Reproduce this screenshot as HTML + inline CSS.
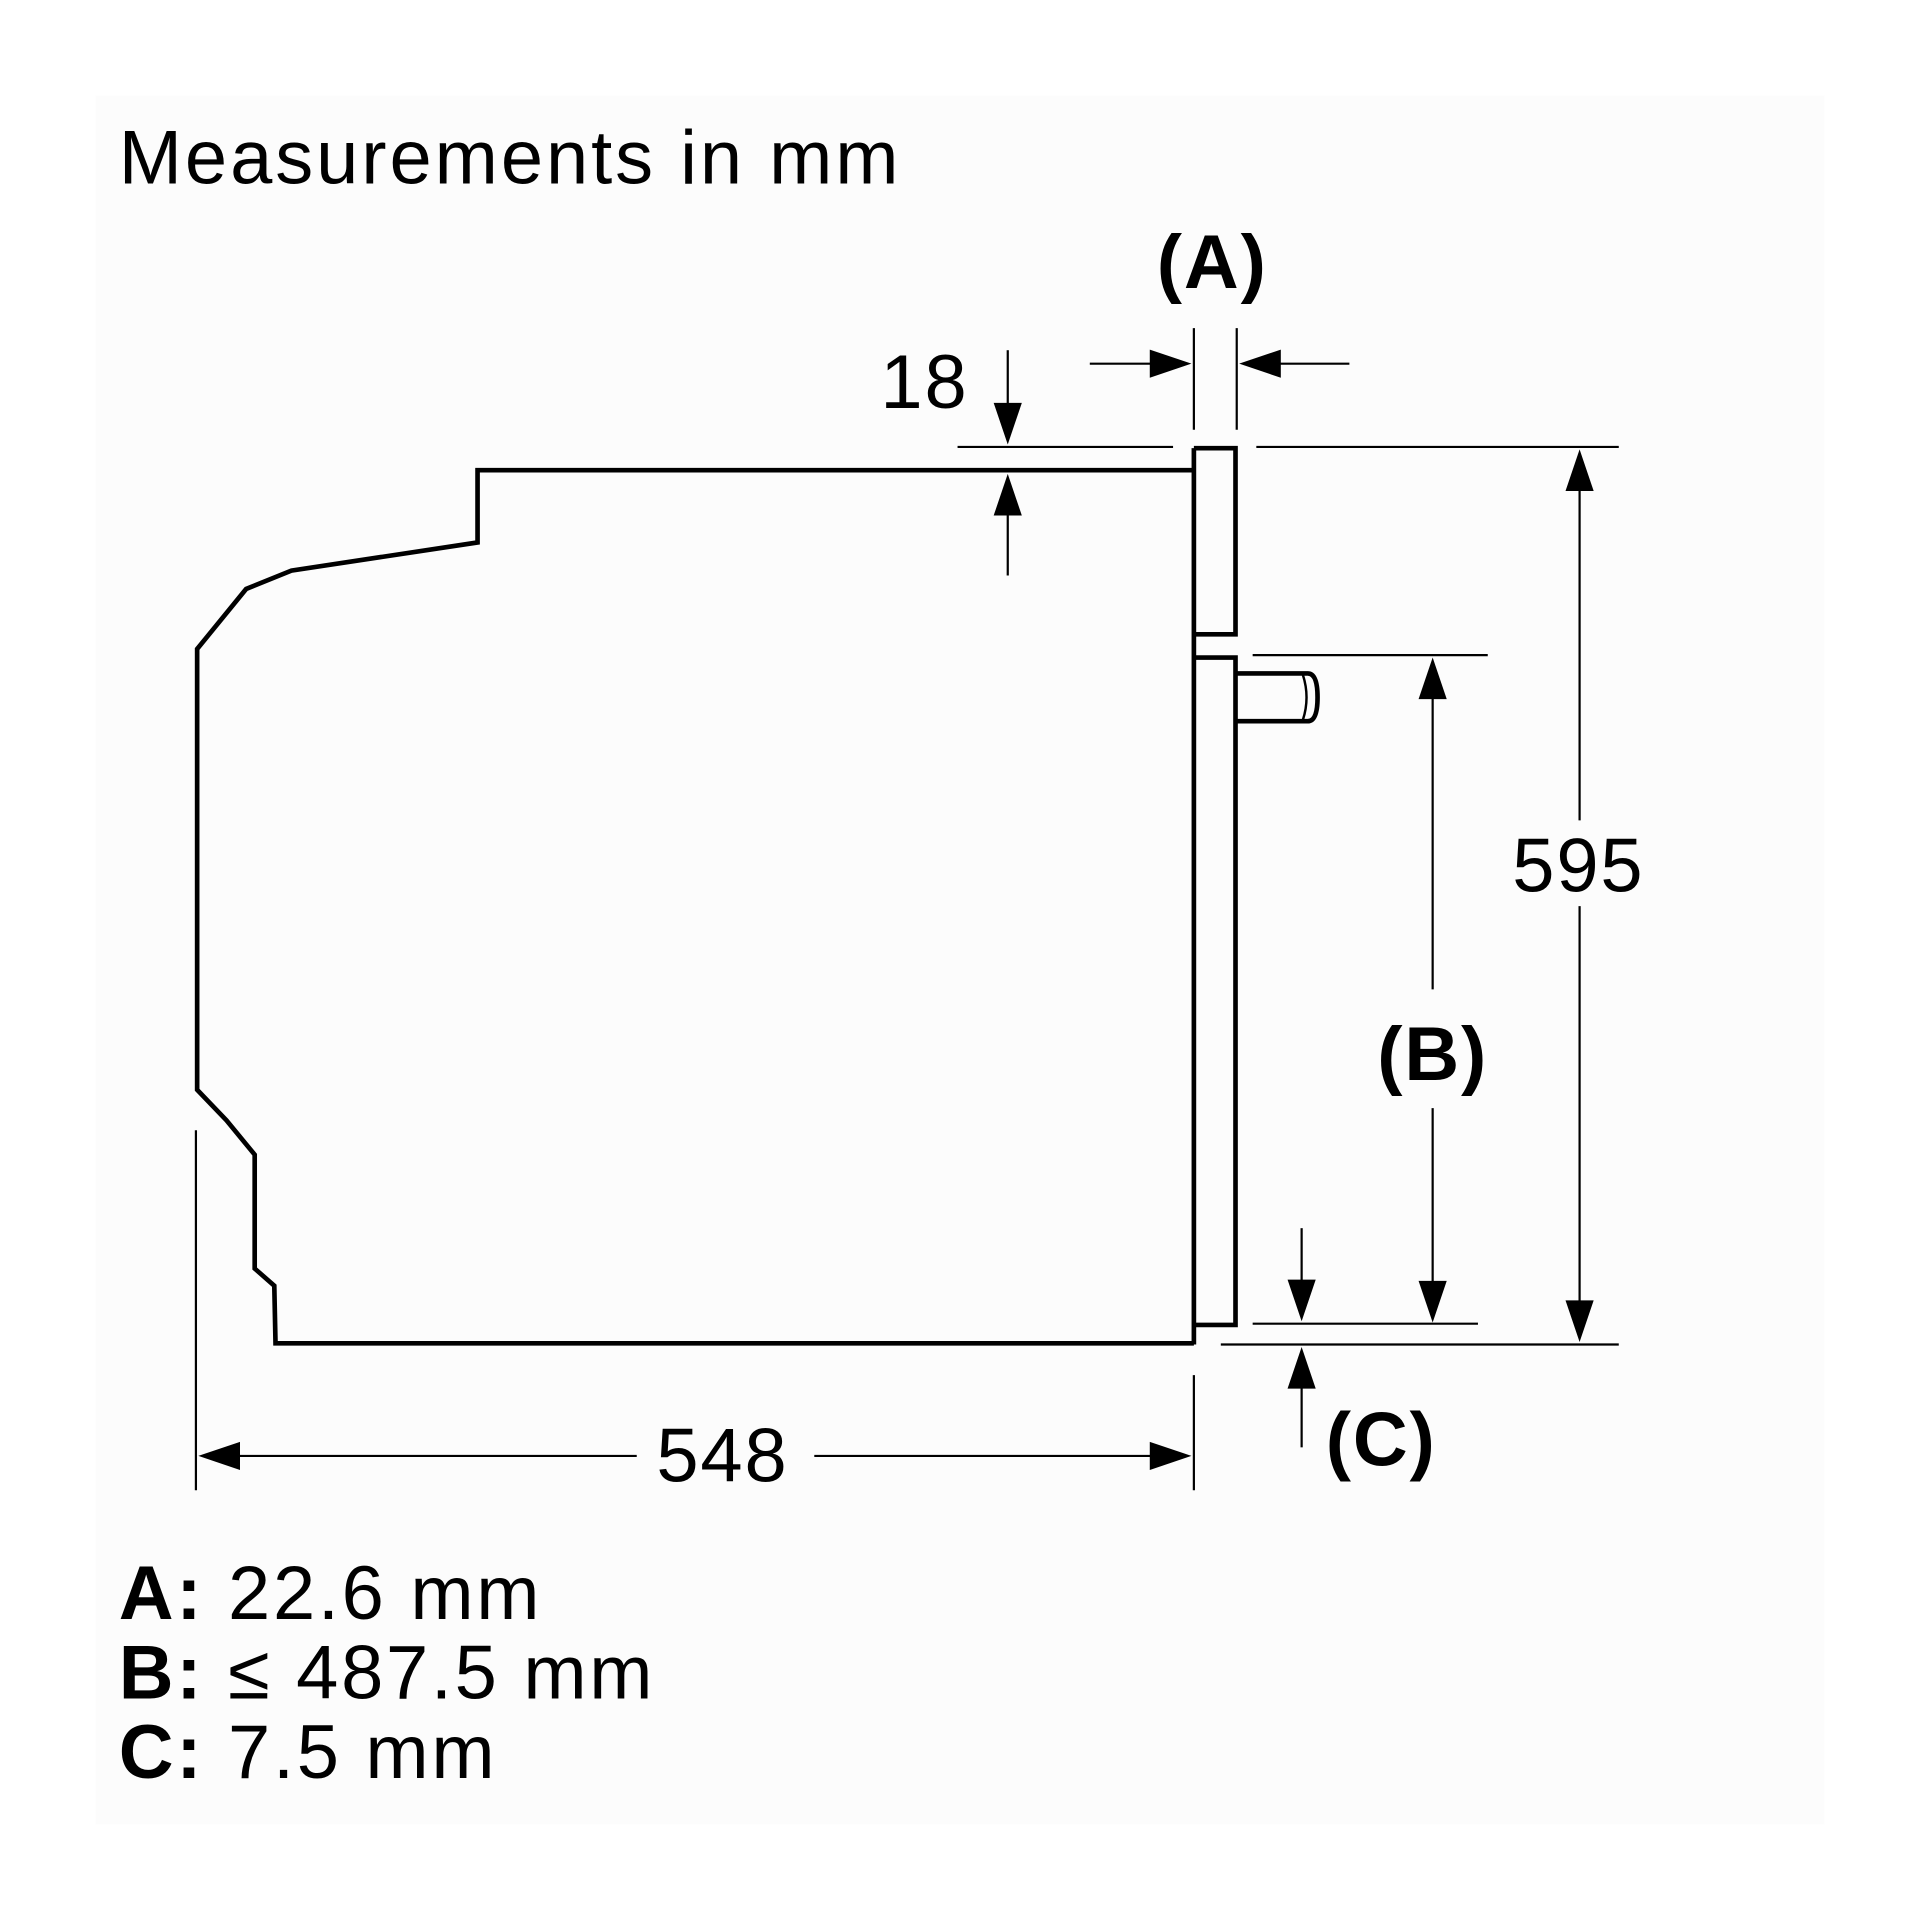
<!DOCTYPE html>
<html><head><style>html,body{margin:0;padding:0;background:#fff}svg{display:block}</style></head>
<body>
<svg width="1920" height="1920" viewBox="0 0 1568 1568" xmlns="http://www.w3.org/2000/svg" font-family="Liberation Sans, Arial, sans-serif">
<rect x="0" y="0" width="1568" height="1568" fill="#fff"/>
<rect x="78" y="78" width="1412" height="1412" fill="#fcfcfc"/>
<text x="97" y="150" font-size="62" letter-spacing="2.4">Measurements in mm</text>
<g fill="none" stroke="#000" stroke-width="3.8" stroke-linejoin="miter">
<polyline points="975,384 390,384 390,443 238,466 201,481 161,530 161,890 185,915 208,943 208,1036 224,1050 225,1097 975,1097"/>
<line x1="975" y1="366" x2="975" y2="1098"/>
<polyline points="975,366 1009,366 1009,518 975,518"/>
<polyline points="975,537 1009,537 1009,1082 975,1082"/>
<path d="M1009,550 H1068 Q1076,550 1076,569.5 Q1076,589 1068,589 H1009"/>
<path d="M1064,551 Q1070,569.5 1064,588" stroke-width="2"/>
</g>
<g stroke="#000" stroke-width="1.8" fill="none">
<line x1="782" y1="365" x2="958" y2="365"/>
<line x1="1026" y1="365" x2="1322" y2="365"/>
<line x1="823" y1="286" x2="823" y2="335"/>
<line x1="823" y1="415" x2="823" y2="470"/>
<line x1="975" y1="268" x2="975" y2="351"/>
<line x1="1010" y1="268" x2="1010" y2="351"/>
<line x1="890" y1="297" x2="945" y2="297"/>
<line x1="1040" y1="297" x2="1102" y2="297"/>
<line x1="1290" y1="395" x2="1290" y2="670"/>
<line x1="1290" y1="740" x2="1290" y2="1070"/>
<line x1="997" y1="1098" x2="1322" y2="1098"/>
<line x1="1023" y1="535" x2="1215" y2="535"/>
<line x1="1023" y1="1081" x2="1207" y2="1081"/>
<line x1="1170" y1="565" x2="1170" y2="808"/>
<line x1="1170" y1="905" x2="1170" y2="1050"/>
<line x1="1063" y1="1003" x2="1063" y2="1050"/>
<line x1="1063" y1="1130" x2="1063" y2="1182"/>
<line x1="160" y1="923" x2="160" y2="1217"/>
<line x1="975" y1="1123" x2="975" y2="1217"/>
<line x1="190" y1="1189" x2="520" y2="1189"/>
<line x1="665" y1="1189" x2="945" y2="1189"/>
</g>
<g fill="#000">
<polygon points="823,363 811.5,329 834.5,329"/>
<polygon points="823,387 811.5,421 834.5,421"/>
<polygon points="973,297 939,285.5 939,308.5"/>
<polygon points="1012,297 1046,285.5 1046,308.5"/>
<polygon points="1290,367 1278.5,401 1301.5,401"/>
<polygon points="1290,1096 1278.5,1062 1301.5,1062"/>
<polygon points="1170,537 1158.5,571 1181.5,571"/>
<polygon points="1170,1080 1158.5,1046 1181.5,1046"/>
<polygon points="1063,1079 1051.5,1045 1074.5,1045"/>
<polygon points="1063,1100 1051.5,1134 1074.5,1134"/>
<polygon points="162,1189 196,1177.5 196,1200.5"/>
<polygon points="973,1189 939,1177.5 939,1200.5"/>
</g>
<g font-size="62" fill="#000" text-anchor="middle" letter-spacing="1.5">
<text x="755" y="333">18</text>
<text x="1289" y="728">595</text>
<text x="590" y="1210">548</text>
<text x="990" y="235" font-weight="bold">(A)</text>
<text x="1170" y="882" font-weight="bold">(B)</text>
<text x="1128" y="1197" font-weight="bold">(C)</text>
</g>
<g font-size="62" fill="#000" letter-spacing="2.2">
<text x="97" y="1322"><tspan font-weight="bold">A:</tspan> 22.6 mm</text>
<text x="97" y="1387"><tspan font-weight="bold">B:</tspan> ≤ 487.5 mm</text>
<text x="97" y="1452"><tspan font-weight="bold">C:</tspan> 7.5 mm</text>
</g>
</svg>
</body></html>
